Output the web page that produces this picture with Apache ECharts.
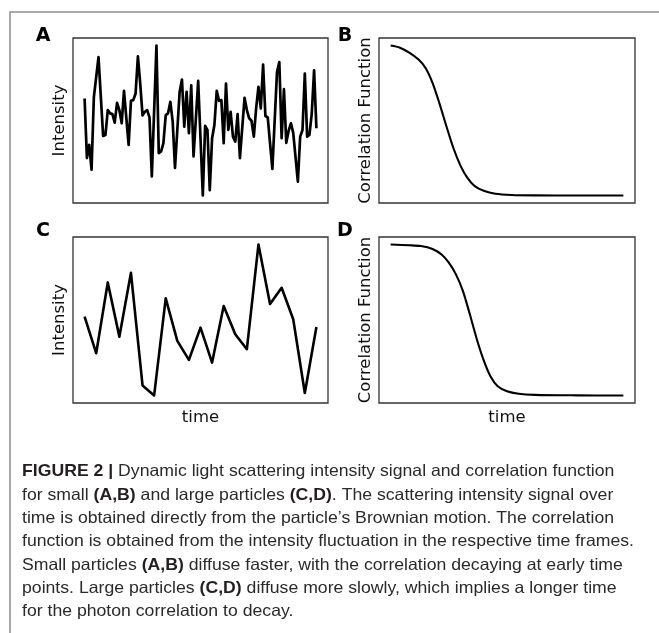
<!DOCTYPE html>
<html><head><meta charset="utf-8">
<script src="https://cdn.jsdelivr.net/npm/echarts@6/dist/echarts.min.js"></script>
<style>html,body{margin:0;padding:0;background:#fff}#c{width:659px;height:633px}</style>
</head><body><div id="c"></div>
<script>
// ---- Panel A: small particles, intensity signal ----
const timeA = [0,1,2,3,4,6,8,9,10,11,12,13,14,15,16,17,19,20,21,22,23,24,25,26,27,28,29,31,32,33,34,35,36,37,38,39,41,42,43,44,45,46,47,49,51,52,53,54,55,56,57,58,59,60,61,62,63,64,65,66,67,69,70,71,72,73,74,75,76,77,78,79,81,83,84,85,86,87,88,89,90,92,93,94,95,96,97,98,99,100];
const intensityA = [104.7,44.7,58,33,106,146.3,67,68,93,89.7,89,80.3,100.3,93,79.7,112.3,58,102.3,103,109.7,147,119.7,87.7,91.3,93,85.7,26.3,158,49.7,51.3,59.7,88,89.7,101.3,81.3,34.7,111.3,123.7,76.3,111.3,69.7,118,46.3,122.3,7,77,73,12.3,64.7,78,112.3,102.3,103,59.7,119.7,73,91.3,66.3,61.3,89,44.7,105.3,93,84.7,82.3,66.3,94.7,116.3,94.7,138.7,87,85.7,33.7,131.3,141.3,64.7,114,60,72,79.7,70,21,66.3,73,129.7,66.3,68,89.7,133,74.7];

// ---- Panel B: small particles, correlation function ----
const timeB = [0,4,8,12,15,18,21,24,27,30,33,36,40,45,52,62,80,100];
const corrB = [158.7,156.5,151.5,144.5,136,121,100,77,55,37.5,25,17,12,9,7.8,7.4,7.3,7.3];

// ---- Panel C: large particles, intensity signal ----
const timeC = [0,1,2,3,4,5,6,7,8,9,10,11,12,13,14,15,16,17,18,19,20];
const intensityC = [86.3,49.7,120.7,66.3,130.3,17.3,7.3,104.7,62,43,75.3,40.3,97,68.7,53.7,158.7,99,115.3,83.7,9.7,76];

// ---- Panel D: large particles, correlation function ----
const timeD = [0,8,13,18,22,25,28,31,34,37,40,43,46,50,55,62,80,100];
const corrD = [158.7,158,157.2,154.2,148.5,140.5,129,112.5,89,64,42.5,26,16.5,11.5,9,7.9,7.4,7.3];

// ---- Texts ----
const panelLetters = ['A','B','C','D'];
const intensityLabel = 'Intensity';
const correlationLabel = 'Correlation Function';
const timeLabel = 'time';
const captionLines = [
  [['FIGURE 2 |',1],[' Dynamic light scattering intensity signal and correlation function',0]],
  [['for small ',0],['(A,B)',1],[' and large particles ',0],['(C,D)',1],['. The scattering intensity signal over',0]],
  [['time is obtained directly from the particle\u2019s Brownian motion. The correlation',0]],
  [['function is obtained from the intensity fluctuation in the respective time frames.',0]],
  [['Small particles ',0],['(A,B)',1],[' diffuse faster, with the correlation decaying at early time',0]],
  [['points. Large particles ',0],['(C,D)',1],[' diffuse more slowly, which implies a longer time',0]],
  [['for the photon correlation to decay.',0]]
];

function pairs(xs, ys){ return xs.map((x,i)=>[x, ys[i]]); }
const padMin = v => v.min - 0.05*(v.max - v.min);
const padMax = v => v.max + 0.05*(v.max - v.min);
const labelFont = {fontFamily:'DejaVu Sans', fontSize:16.5, color:'#111'};

const grids = [
  {left:73, top:38, width:255, height:165},
  {left:379, top:38, width:256, height:165},
  {left:73, top:237, width:255, height:166},
  {left:379, top:237, width:256, height:166}
].map(g => Object.assign({show:true, borderColor:'#333', borderWidth:1.3, backgroundColor:'transparent'}, g));

function xAx(gi, name){
  return {type:'value', gridIndex:gi, min:padMin, max:padMax,
    axisLine:{show:false}, axisTick:{show:false}, axisLabel:{show:false}, splitLine:{show:false},
    name:name||'', nameLocation:'middle', nameGap:6, nameTextStyle:labelFont};
}
function yAx(gi, name){
  return {type:'value', gridIndex:gi, min:padMin, max:padMax,
    axisLine:{show:false}, axisTick:{show:false}, axisLabel:{show:false}, splitLine:{show:false},
    name:name, nameLocation:'middle', nameGap:5, nameTextStyle:labelFont};
}
function lineSeries(i, data, width, smooth){
  return {type:'line', xAxisIndex:i, yAxisIndex:i, data:data, symbol:'none',
    smooth: smooth ? 0.3 : false,
    lineStyle:{color:'#000', width:width, join:'round'}, animation:false};
}

// caption scaling to match condensed typeface width
const capFont = 16.5, capFamily = "'Liberation Sans', Arial, sans-serif";
const cv = document.createElement('canvas').getContext('2d');
cv.font = capFont + 'px ' + capFamily;
const refW = cv.measureText(captionLines[3].map(s=>s[0]).join('')).width;
const capScale = 612 / refW;

const graphic = [];
graphic.push({type:'polyline', silent:true, shape:{points:[[10,633],[10,12],[659,12]]}, style:{stroke:'#8f8f8f', lineWidth:1.5, fill:null}});
const letterPos = [[43,36],[345,36],[43,231],[345,231]];
panelLetters.forEach((L,i)=>graphic.push({type:'text', x:letterPos[i][0], y:letterPos[i][1],
  style:{text:L, fontFamily:'DejaVu Sans', fontWeight:'bold', fontSize:19, fill:'#000', align:'center', verticalAlign:'middle'}}));
captionLines.forEach((segs,i)=>{
  const txt = segs.map(s => s[1] ? '{b|' + s[0] + '}' : '{n|' + s[0] + '}').join('');
  graphic.push({type:'text', x:22, y:471.7 + i*23.33, scaleX:capScale,
    style:{text:txt, fontFamily:capFamily, fontSize:capFont, fill:'#2a2a2a', verticalAlign:'middle', align:'left',
      rich:{b:{fontFamily:capFamily, fontSize:capFont, fontWeight:'bold', fill:'#231f20'},
            n:{fontFamily:capFamily, fontSize:capFont, fill:'#2a2a2a'}}}});
});

const chart = echarts.init(document.getElementById('c'), null, {renderer:'canvas'});
chart.setOption({
  animation:false,
  backgroundColor:'#fff',
  grid: grids,
  xAxis:[xAx(0), xAx(1), xAx(2, timeLabel), xAx(3, timeLabel)],
  yAxis:[yAx(0, intensityLabel), yAx(1, correlationLabel), yAx(2, intensityLabel), yAx(3, correlationLabel)],
  series:[
    lineSeries(0, pairs(timeA, intensityA), 2.7, false),
    lineSeries(1, pairs(timeB, corrB), 2.1, true),
    lineSeries(2, pairs(timeC, intensityC), 2.6, false),
    lineSeries(3, pairs(timeD, corrD), 2.1, true)
  ],
  graphic: graphic
});
</script></body></html>
